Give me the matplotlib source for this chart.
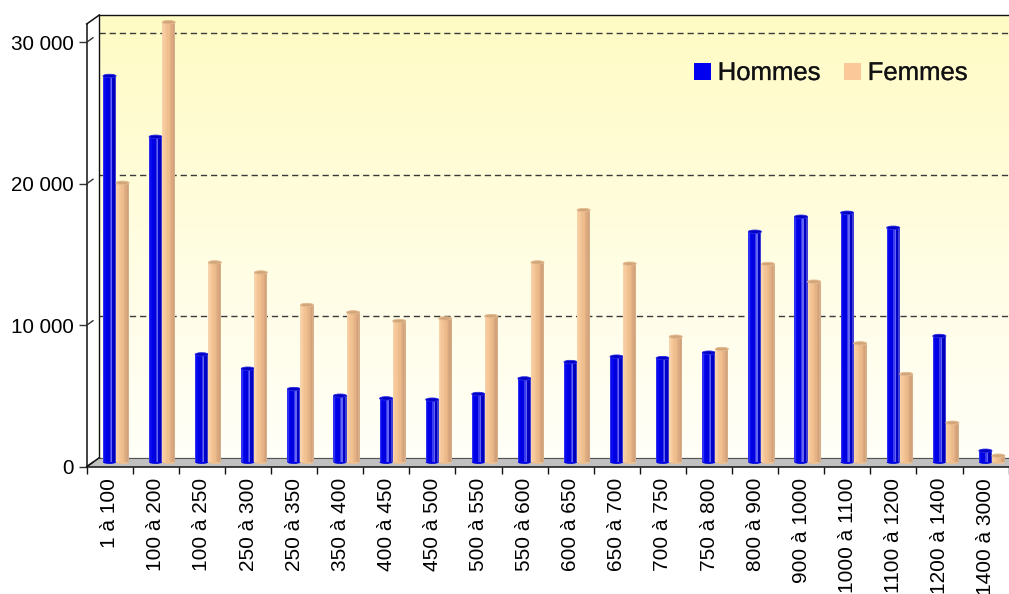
import numpy as np
import matplotlib
matplotlib.use('Agg')
import matplotlib.pyplot as plt
import matplotlib.patheffects as pe
from matplotlib.patches import Ellipse, Polygon, Rectangle
from matplotlib.lines import Line2D
from matplotlib.colors import LinearSegmentedColormap

plt.rcParams['font.family'] = ['Liberation Sans', 'DejaVu Sans']

categories = ['1 à 100', '100 à 200', '100 à 250', '250 à 300', '250 à 350',
              '350 à 400', '400 à 450', '450 à 500', '500 à 550', '550 à 600',
              '600 à 650', '650 à 700', '700 à 750', '750 à 800', '800 à 900',
              '900 à 1000', '1000 à 1100', '1100 à 1200', '1200 à 1400', '1400 à 3000']
hommes = [27300, 23000, 7620, 6610, 5170, 4700, 4510, 4420, 4820, 5920,
          7080, 7460, 7360, 7740, 16290, 17350, 17630, 16570, 8920, 810]
femmes = [19750, 31100, 14120, 13410, 11110, 10590, 9980, 10160, 10330, 14120,
          17820, 14030, 8870, 8000, 14010, 12760, 8400, 6230, 2790, 460]
series_names = ['Hommes', 'Femmes']
yticks = [0, 10000, 20000, 30000]
ytick_labels = ['0', '10 000', '20 000', '30 000']
gridlines = [10000, 20000, 30000]

W, H = 1009, 594
fig = plt.figure(figsize=(W / 100, H / 100), dpi=100)

# geometry (image pixel coords, y downward)
FX0, FX1 = 86.7, 1008.7
FY0, FYTOP = 466.7, 24.0
DX, DY = 12.6, 9.0
YMAX = 31290
n = len(categories)


def fx(x):
    return x / W


def fy(y):
    return (H - y) / H


def add_axes_px(x0, ytop, x1, ybot, **kw):
    return fig.add_axes([x0 / W, (H - ybot) / H, (x1 - x0) / W, (ybot - ytop) / H], **kw)


ax_b = add_axes_px(FX0 + DX, FYTOP - DY, FX1 + DX, FY0 - DY, zorder=0)
ax_m = add_axes_px(FX0 + DX / 2, FYTOP - DY / 2, FX1 + DX / 2, FY0 - DY / 2, zorder=2)
ax_f = add_axes_px(FX0, FYTOP, FX1, FY0, zorder=3)

for a in (ax_b, ax_m, ax_f):
    a.set_xlim(-0.5, n - 0.5)
    a.set_ylim(0, YMAX)

# ---- back wall ----
cmap = LinearSegmentedColormap.from_list('wall', ['#FFFFF8', '#FFFDE0', '#FFFBC4'])
grad = np.linspace(0, 1, 256).reshape(-1, 1)
ax_b.imshow(grad, extent=(-0.5, n - 0.5, 0, YMAX), aspect='auto', cmap=cmap,
            origin='lower', zorder=0, interpolation='bilinear')
for g in gridlines:
    ax_b.axhline(g, color='#3a3a3a', lw=1.0, linestyle=(0, (4.5, 2.8)), zorder=1)
ax_b.axhline(0, color='#555555', lw=0.8, zorder=1)
ax_b.set_xticks([])
ax_b.set_yticks([])
for s in ('right', 'bottom'):
    ax_b.spines[s].set_visible(False)
for s in ('left', 'top'):
    ax_b.spines[s].set_linewidth(1.0)
    ax_b.spines[s].set_color('#111111')

# ---- floor ----
floor = Polygon([(fx(FX0), fy(FY0)), (fx(FX1 + DX), fy(FY0)),
                 (fx(FX1 + DX), fy(FY0 - DY)), (fx(FX0 + DX), fy(FY0 - DY))],
                closed=True, transform=fig.transFigure, facecolor='#C0C0C0',
                edgecolor='none', zorder=1)
fig.add_artist(floor)
fig.add_artist(Line2D([fx(FX0 + DX), fx(FX1 + DX)], [fy(FY0 - DY), fy(FY0 - DY)],
                      transform=fig.transFigure, color='#555555', lw=0.8, zorder=1.1))

# ---- bars (mid depth) ----
ax_m.axis('off')
ax_m.patch.set_visible(False)
bw = 0.284
eh = 3.4 * YMAX / (FY0 - FYTOP)
styles = [
    dict(strips=['#3030F2', '#0A0AEE', '#0000E8', '#0000E2', '#0000DC', '#3A3AEE',
                 '#6464F2', '#0000CC', '#0000B8', '#4040D8'],
         top='#0000C4', topedge='#2A2AE6', base='#0000E0'),
    dict(strips=['#F8D2A8', '#F6CB9F', '#F4C698', '#F2C293', '#EFBE8F', '#EBB98A',
                 '#E4B285', '#DAA97F', '#D2A27A', '#D8AE88'],
         top='#D3A67A', topedge='#E4BC92', base='#EEBF90'),
]
xs = np.arange(n)
for si, vals in enumerate([hommes, femmes]):
    st = styles[si]
    off = (-bw / 2) if si == 0 else (bw / 2)
    xc = xs + off
    ns = len(st['strips'])
    for x, v in zip(xc, vals):
        ax_m.add_patch(Ellipse((x, 0), bw, eh, facecolor=st['base'], edgecolor='none',
                               zorder=1.9 + si, clip_on=False))
    for k, c in enumerate(st['strips']):
        ax_m.bar(xc - bw / 2 + (k + 0.5) * bw / ns, vals, width=bw / ns, color=c,
                 linewidth=0, zorder=2 + si, clip_on=False)
    for x, v in zip(xc, vals):
        ax_m.add_patch(Ellipse((x, v), bw, eh, facecolor=st['top'], edgecolor=st['topedge'],
                               lw=0.6, zorder=2.5 + si, clip_on=False))

# ---- front axes ----
ax_f.patch.set_visible(False)
for s in ('right', 'top'):
    ax_f.spines[s].set_visible(False)
for s in ('left', 'bottom'):
    ax_f.spines[s].set_linewidth(1.1)
    ax_f.spines[s].set_color('#111111')
ax_f.set_yticks(yticks)
ax_f.set_yticklabels(ytick_labels)
ax_f.tick_params(axis='y', length=5.8, width=1.0, pad=3.6, labelsize=14.9,
                 color='#333333')
ax_f.set_xticks(np.arange(-0.5, n, 1.0))
ax_f.set_xticklabels([])
ax_f.tick_params(axis='x', which='major', length=5.0, width=1.0, color='#111111')
ax_f.set_xticks(xs, minor=True)
ax_f.set_xticklabels(categories, minor=True, rotation=90)
ax_f.tick_params(axis='x', which='minor', length=0, pad=8.0, labelsize=15.0)

# side diagonals
to_fig = fig.transFigure.inverted()
for t in yticks:
    p0 = to_fig.transform(ax_f.transData.transform((-0.5, t)))
    p1 = to_fig.transform(ax_m.transData.transform((-0.5, t)))
    fig.add_artist(Line2D([p0[0], p1[0]], [p0[1], p1[1]], transform=fig.transFigure,
                          color='#333333', lw=1.0, zorder=4))
for t in (0, YMAX):
    p0 = to_fig.transform(ax_f.transData.transform((-0.5, t)))
    p1 = to_fig.transform(ax_b.transData.transform((-0.5, t)))
    fig.add_artist(Line2D([p0[0], p1[0]], [p0[1], p1[1]], transform=fig.transFigure,
                          color='#111111', lw=1.1, zorder=4))

# ---- legend ----
leg_colors = ['#0000F0', '#FBC89A']
sq_x = [694.3, 844.3]
for name, c, x in zip(series_names, leg_colors, sq_x):
    fig.add_artist(Rectangle((fx(x), fy(80.0)), 16.7 / W, 16.7 / H, transform=fig.transFigure,
                             facecolor=c, edgecolor='none', zorder=5))
    fig.text(fx(x + 23.4), fy(80.0), name, fontsize=18.5, color='#111111',
             ha='left', va='baseline', zorder=5,
             path_effects=[pe.withStroke(linewidth=0.3, foreground='#555555')])

fig.savefig('out.png', dpi=100)
